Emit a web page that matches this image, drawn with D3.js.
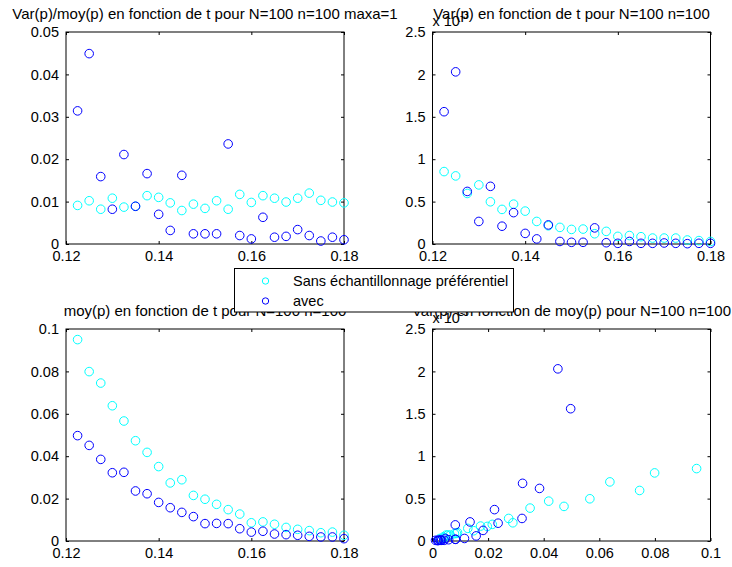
<!DOCTYPE html>
<html>
<head>
<meta charset="utf-8">
<script src="https://cdn.jsdelivr.net/npm/d3@7"></script>
<style>
  body { margin: 0; background: #fff; }
  text { font-family: "Liberation Sans", Arial, Helvetica, sans-serif; fill: #000; }
</style>
</head>
<body>
<div id="chart"></div>
<script>
// t values (x of the three first plots)
var t = [0.1225, 0.125, 0.1275, 0.13, 0.1325, 0.135, 0.1375, 0.14, 0.1425, 0.145, 0.1475, 0.15,
         0.1525, 0.155, 0.1575, 0.16, 0.1625, 0.165, 0.1675, 0.17, 0.1725, 0.175, 0.1775, 0.18];

// Var(p)/moy(p)
var ratioSans = [0.0091, 0.0102, 0.0082, 0.0108, 0.0087, 0.0089, 0.0114, 0.0110, 0.0097, 0.0079, 0.0094, 0.0084,
                 0.0102, 0.0082, 0.0117, 0.0098, 0.0114, 0.0108, 0.0099, 0.0108, 0.0120, 0.0103, 0.0099, 0.0097];
var ratioAvec = [0.0314, 0.0449, 0.0159, 0.0082, 0.0211, 0.0089, 0.0166, 0.0070, 0.0032, 0.0162, 0.0024, 0.0024,
                 0.0024, 0.0236, 0.0020, 0.0012, 0.0063, 0.0016, 0.0018, 0.0034, 0.0020, 0.0007, 0.0016, 0.0010];

// Var(p), in units of 1e-3
var varSans = [0.854, 0.803, 0.596, 0.697, 0.498, 0.408, 0.470, 0.388, 0.266, 0.215, 0.196, 0.172,
               0.176, 0.121, 0.149, 0.090, 0.100, 0.086, 0.070, 0.070, 0.070, 0.047, 0.040, 0.030];
var varAvec = [1.56, 2.03, 0.62, 0.266, 0.68, 0.21, 0.37, 0.125, 0.06, 0.225, 0.03, 0.02,
               0.02, 0.19, 0.015, 0.008, 0.03, 0.008, 0.008, 0.012, 0.008, 0.004, 0.008, 0.008];

// moy(p)
var moySans = [0.0950, 0.0799, 0.0745, 0.0638, 0.0566, 0.0473, 0.0418, 0.0351, 0.0274, 0.0289, 0.0215, 0.0197,
               0.0173, 0.0148, 0.0127, 0.0086, 0.0090, 0.0079, 0.0064, 0.0055, 0.0049, 0.0039, 0.0042, 0.0027];
var moyAvec = [0.0497, 0.0451, 0.0385, 0.0322, 0.0324, 0.0236, 0.0223, 0.0182, 0.0157, 0.0135, 0.0115, 0.0082,
               0.0083, 0.0082, 0.0058, 0.0042, 0.0046, 0.0033, 0.0030, 0.0027, 0.0022, 0.0019, 0.0019, 0.0011];

var tTicks = [0.12, 0.14, 0.16, 0.18];
var ratioTicks = [0, 0.01, 0.02, 0.03, 0.04, 0.05];
var varTicks = [0, 0.5, 1, 1.5, 2, 2.5];
var moyTicks = [0, 0.02, 0.04, 0.06, 0.08, 0.1];

var titles = [
  "Var(p)/moy(p) en fonction de t pour N=100 n=100 maxa=1",
  "Var(p) en fonction de t pour N=100 n=100",
  "moy(p) en fonction de t pour N=100 n=100",
  "Var(p) en fonction de moy(p) pour N=100 n=100"
];
var legendLabels = ["Sans échantillonnage préférentiel", "avec"];
var colSans = "#00ffff", colAvec = "#0000ff";

var W = 732, H = 567;
var svg = d3.select("#chart").append("svg")
    .attr("width", W)
    .attr("height", H);

svg.append("rect")
    .attr("width", W)
    .attr("height", H)
    .attr("fill", "#fff");

function zip(xs, ys) {
  return xs.map(function(x, i) { return [x, ys[i]]; });
}

var panels = [
  {left: 66, top: 32, xd: [0.12, 0.18], yd: [0, 0.05], xt: tTicks, yt: ratioTicks, title: titles[0],
   sans: zip(t, ratioSans), avec: zip(t, ratioAvec)},
  {left: 432.5, top: 32, xd: [0.12, 0.18], yd: [0, 2.5], xt: tTicks, yt: varTicks, title: titles[1],
   sans: zip(t, varSans), avec: zip(t, varAvec), expo: true},
  {left: 66, top: 329, xd: [0.12, 0.18], yd: [0, 0.1], xt: tTicks, yt: moyTicks, title: titles[2],
   sans: zip(t, moySans), avec: zip(t, moyAvec)},
  {left: 432.5, top: 329, xd: [0, 0.1], yd: [0, 2.5], xt: moyTicks, yt: varTicks, title: titles[3],
   sans: zip(moySans, varSans), avec: zip(moyAvec, varAvec), expo: true}
];
var pw = 278, ph = 212, tick = 3;

panels.forEach(function(p) {
  var x = d3.scaleLinear().domain(p.xd).range([p.left, p.left + pw]);
  var y = d3.scaleLinear().domain(p.yd).range([p.top + ph, p.top]);
  var g = svg.append("g");

  // title
  g.append("text")
      .attr("x", p.left + pw / 2)
      .attr("y", p.top - 13)
      .attr("text-anchor", "middle")
      .style("font-size", "15px")
      .text(p.title);

  if (p.expo) {
    var e = g.append("text")
        .attr("x", p.left)
        .attr("y", p.top - 6)
        .style("font-size", "14.5px");
    e.append("tspan").text("x 10");
    e.append("tspan")
        .attr("dy", -7)
        .style("font-size", "10px")
        .text("-3");
  }

  // box
  g.append("rect")
      .attr("x", p.left)
      .attr("y", p.top)
      .attr("width", pw)
      .attr("height", ph)
      .attr("fill", "none")
      .attr("stroke", "#000")
      .attr("stroke-width", 1);

  // ticks on all four sides, pointing in
  var bottom = d3.axisBottom(x).tickValues(p.xt).tickSizeInner(-tick).tickSizeOuter(0)
      .tickPadding(7).tickFormat(function(d) { return String(d); });
  var topAx = d3.axisTop(x).tickValues(p.xt).tickSizeInner(-tick).tickSizeOuter(0).tickFormat("");
  var left = d3.axisLeft(y).tickValues(p.yt).tickSizeInner(-tick).tickSizeOuter(0)
      .tickPadding(7).tickFormat(function(d) { return String(d); });
  var right = d3.axisRight(y).tickValues(p.yt).tickSizeInner(-tick).tickSizeOuter(0).tickFormat("");

  g.append("g").attr("transform", "translate(0," + (p.top + ph) + ")").call(bottom);
  g.append("g").attr("transform", "translate(0," + p.top + ")").call(topAx);
  g.append("g").attr("transform", "translate(" + p.left + ",0)").call(left);
  g.append("g").attr("transform", "translate(" + (p.left + pw) + ",0)").call(right);

  g.selectAll(".domain").remove();
  g.selectAll(".tick line").attr("stroke", "#000");
  g.selectAll(".tick text")
      .style("font-size", "14.5px")
      .style("font-family", "'Liberation Sans', Arial, Helvetica, sans-serif")
      .attr("fill", "#000");

  g.append("g").selectAll("circle")
      .data(p.sans)
    .enter().append("circle")
      .attr("cx", function(d) { return x(d[0]); })
      .attr("cy", function(d) { return y(d[1]); })
      .attr("r", 4.3)
      .attr("fill", "none")
      .attr("stroke", colSans);

  g.append("g").selectAll("circle")
      .data(p.avec)
    .enter().append("circle")
      .attr("cx", function(d) { return x(d[0]); })
      .attr("cy", function(d) { return y(d[1]); })
      .attr("r", 4.3)
      .attr("fill", "none")
      .attr("stroke", colAvec);
});

// legend
var lg = svg.append("g");
lg.append("rect")
    .attr("x", 234.5)
    .attr("y", 268.5)
    .attr("width", 279)
    .attr("height", 43.5)
    .attr("fill", "#fff")
    .attr("stroke", "#000");

lg.selectAll("circle")
    .data(legendLabels)
  .enter().append("circle")
    .attr("cx", 265.5)
    .attr("cy", function(d, i) { return 281 + i * 20; })
    .attr("r", 3.2)
    .attr("fill", "none")
    .attr("stroke", function(d, i) { return i == 0 ? colSans : colAvec; });

lg.selectAll("text")
    .data(legendLabels)
  .enter().append("text")
    .attr("x", 293)
    .attr("y", function(d, i) { return 286 + i * 20; })
    .style("font-size", "14.5px")
    .text(function(d) { return d; });
</script>
</body>
</html>
